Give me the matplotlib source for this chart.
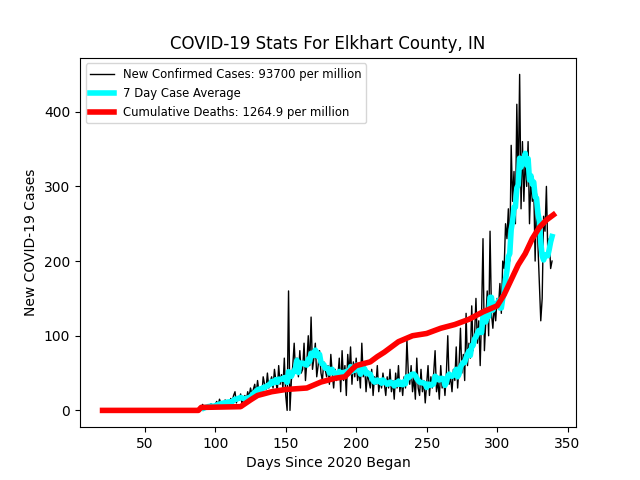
import matplotlib
matplotlib.use("Agg")
import matplotlib.pyplot as plt
import numpy as np
import pandas as pd

start_day = 20
cases = [0]*68 + [
2,5,3,8,4,6,3,7,5,9,4,6,
8,12,6,15,9,11,7,14,10,13,
9,16,12,20,25,10,18,14,22,8,
15,20,12,25,18,30,22,28,35,20,
40,25,30,20,45,35,28,50,30,38,
45,30,55,40,25,60,35,48,30,70,
20,0,160,0,40,60,90,50,70,45,
80,50,55,90,40,65,100,60,125,55,
70,90,45,60,80,50,40,65,55,45,
60,35,75,50,30,55,40,45,70,25,
80,40,60,20,75,50,85,35,65,45,
70,40,55,30,90,45,60,25,50,40,
30,55,20,45,35,60,25,40,30,50,
35,20,45,30,55,25,40,15,50,30,
60,25,40,20,45,30,95,50,35,60,
25,45,15,70,30,20,55,25,40,10,
35,60,20,45,30,50,80,25,40,15,
60,30,45,20,50,100,35,45,25,55,
40,85,30,60,110,50,75,40,130,60,
90,70,140,80,100,150,90,120,60,130,
230,80,120,160,100,240,130,110,140,120,
150,140,170,130,200,190,250,230,270,200,
355,280,320,250,410,300,450,270,360,280,
340,300,360,250,310,280,300,200,290,220,
170,120,150,260,240,300,210,230,190,200]
days = np.arange(start_day, start_day + len(cases))

death_days = [20, 88, 90, 118, 125, 130, 140, 150, 165, 175, 185, 192, 197, 200, 210, 215, 220, 225, 230, 240, 250, 260, 270, 280, 290, 300, 305, 310, 315, 320, 325, 330, 335, 340]
death_vals = [0, 0, 4, 5, 14, 20, 25, 28, 30, 38, 43, 45, 55, 60, 65, 72, 78, 85, 92, 100, 103, 110, 115, 122, 132, 140, 155, 175, 195, 210, 230, 245, 255, 262]

avg = pd.Series(cases).rolling(7).mean().to_numpy()
mask = days >= 92

fig, ax = plt.subplots(figsize=(6.4, 4.8), dpi=100)
ax.plot(days, cases, color='black', lw=1, label='New Confirmed Cases: 93700 per million')
ax.plot(days[mask], avg[mask], color='cyan', lw=4, label='7 Day Case Average')
ax.plot(death_days, death_vals, color='red', lw=4, label='Cumulative Deaths: 1264.9 per million')
ax.set_title('COVID-19 Stats For Elkhart County, IN')
ax.set_xlabel('Days Since 2020 Began')
ax.set_ylabel('New COVID-19 Cases')
ax.legend(loc='upper left', fontsize='small')
fig.savefig('out.png')
